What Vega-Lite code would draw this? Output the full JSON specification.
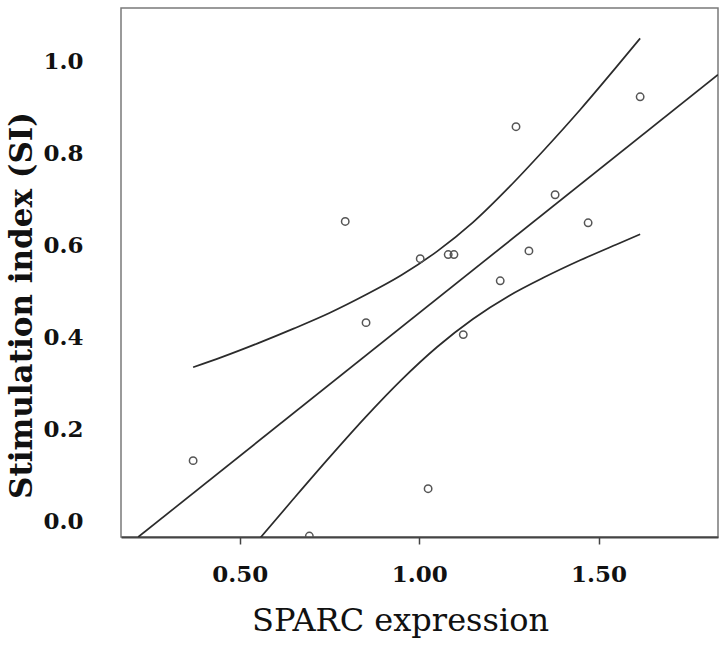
{
  "$schema": "https://vega.github.io/schema/vega-lite/v6.json",
  "width": 597,
  "height": 529,
  "autosize": {"type": "none"},
  "padding": {"left": 121, "top": 8, "right": 9, "bottom": 111},
  "background": "white",
  "config": {
    "view": {"stroke": "#7a7a7a", "strokeWidth": 1.5},
    "font": "DejaVu Serif"
  },
  "datasets": {
    "points": [
      {"sparc": 0.370, "si": 0.132},
      {"sparc": 0.794, "si": 0.652},
      {"sparc": 0.852, "si": 0.432},
      {"sparc": 0.694, "si": -0.032},
      {"sparc": 1.003, "si": 0.571},
      {"sparc": 1.081, "si": 0.580},
      {"sparc": 1.097, "si": 0.580},
      {"sparc": 1.123, "si": 0.406},
      {"sparc": 1.025, "si": 0.071},
      {"sparc": 1.226, "si": 0.523},
      {"sparc": 1.270, "si": 0.858},
      {"sparc": 1.306, "si": 0.588},
      {"sparc": 1.379, "si": 0.710},
      {"sparc": 1.471, "si": 0.649},
      {"sparc": 1.616, "si": 0.923}
    ],
    "lines": [
      {"series": "fit", "sparc": 0.217, "si": -0.034},
      {"series": "fit", "sparc": 1.833, "si": 0.971},
      {"series": "upper", "sparc": 0.370, "si": 0.335},
      {"series": "upper", "sparc": 0.450, "si": 0.357},
      {"series": "upper", "sparc": 0.550, "si": 0.387},
      {"series": "upper", "sparc": 0.650, "si": 0.419},
      {"series": "upper", "sparc": 0.750, "si": 0.453},
      {"series": "upper", "sparc": 0.850, "si": 0.492},
      {"series": "upper", "sparc": 0.950, "si": 0.535},
      {"series": "upper", "sparc": 1.050, "si": 0.587},
      {"series": "upper", "sparc": 1.150, "si": 0.650},
      {"series": "upper", "sparc": 1.250, "si": 0.726},
      {"series": "upper", "sparc": 1.350, "si": 0.809},
      {"series": "upper", "sparc": 1.450, "si": 0.896},
      {"series": "upper", "sparc": 1.550, "si": 0.988},
      {"series": "upper", "sparc": 1.616, "si": 1.050},
      {"series": "lower", "sparc": 0.557, "si": -0.036},
      {"series": "lower", "sparc": 0.650, "si": 0.049},
      {"series": "lower", "sparc": 0.750, "si": 0.139},
      {"series": "lower", "sparc": 0.850, "si": 0.226},
      {"series": "lower", "sparc": 0.950, "si": 0.307},
      {"series": "lower", "sparc": 1.050, "si": 0.379},
      {"series": "lower", "sparc": 1.150, "si": 0.440},
      {"series": "lower", "sparc": 1.250, "si": 0.490},
      {"series": "lower", "sparc": 1.350, "si": 0.531},
      {"series": "lower", "sparc": 1.450, "si": 0.568},
      {"series": "lower", "sparc": 1.550, "si": 0.602},
      {"series": "lower", "sparc": 1.616, "si": 0.624}
    ]
  },
  "encoding": {
    "x": {
      "field": "sparc",
      "type": "quantitative",
      "scale": {"domain": [0.169, 1.833], "nice": false, "zero": false},
      "axis": {
        "title": "SPARC expression",
        "values": [0.5, 1.0, 1.5],
        "format": ".2f",
        "grid": false,
        "domainColor": "#444444",
        "domainWidth": 2,
        "tickColor": "#444444",
        "tickWidth": 1.5,
        "tickSize": 7,
        "labelFont": "DejaVu Serif",
        "labelFontWeight": "bold",
        "labelFontSize": 23,
        "labelColor": "#111111",
        "labelPadding": 19,
        "titleFont": "DejaVu Serif",
        "titleFontWeight": "normal",
        "titleFontSize": 32,
        "titleColor": "#111111",
        "titleBaseline": "alphabetic",
        "titleX": 279,
        "titleY": 93
      }
    },
    "y": {
      "field": "si",
      "type": "quantitative",
      "scale": {"domain": [-0.034, 1.116], "nice": false, "zero": false},
      "axis": {
        "title": "Stimulation index (SI)",
        "values": [0, 0.2, 0.4, 0.6, 0.8, 1.0],
        "format": ".1f",
        "grid": false,
        "domain": false,
        "ticks": false,
        "labelFont": "DejaVu Serif",
        "labelFontWeight": "bold",
        "labelFontSize": 23,
        "labelColor": "#111111",
        "labelPadding": 38,
        "titleFont": "DejaVu Serif",
        "titleFontWeight": "bold",
        "titleFontSize": 31,
        "titleColor": "#111111",
        "titleAngle": -90,
        "titleAlign": "center",
        "titleBaseline": "bottom",
        "titleX": -83,
        "titleY": 297
      }
    }
  },
  "layer": [
    {
      "data": {"name": "lines"},
      "mark": {"type": "line", "stroke": "#2b2b2b", "strokeWidth": 1.7, "interpolate": "monotone", "clip": true},
      "encoding": {"detail": {"field": "series", "type": "nominal"}}
    },
    {
      "data": {"name": "points"},
      "mark": {"type": "point", "shape": "circle", "filled": false, "stroke": "#555555", "strokeWidth": 1.5, "size": 55, "opacity": 1, "clip": true}
    }
  ]
}
